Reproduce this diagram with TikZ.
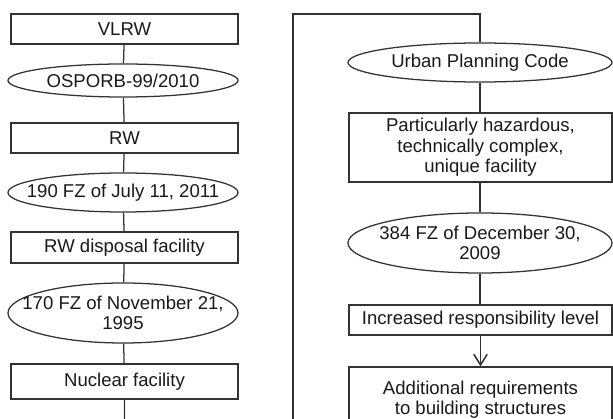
\documentclass[tikz,border=0pt]{standalone}
\usepackage{fontspec}
\setmainfont{Liberation Sans}
\usetikzlibrary{shapes.geometric, arrows.meta}

% one unit of the grid below
\newcommand{\unitpx}{0.7113pt}

\tikzset{
  every node/.style={font=\fontsize{13.2}{14.5}\selectfont, text=black!90, align=center},
  box/.style={draw, rectangle, inner sep=0pt},
  % fixed size: the text must not widen the ellipse
  law/.style={draw, ellipse, inner xsep=-80*\unitpx, inner ysep=0pt},
}

\begin{document}
\begin{tikzpicture}[x=0.025cm, y=-0.025cm, line width=0.9pt, color=black!80]
      \clip (0,0) rectangle (613,419);
      % left chain
      \node[box, minimum width=227*\unitpx, minimum height=30*\unitpx] (vlrw) at (124.5,29) {VLRW};
      \node[law, minimum width=230*\unitpx, minimum height=33*\unitpx] (osporb) at (123,80.5) {OSPORB-99/2010};
      \node[box, minimum width=227*\unitpx, minimum height=30*\unitpx] (rw) at (124.5,138) {RW};
      \node[law, minimum width=230*\unitpx, minimum height=39*\unitpx] (fzA) at (123,192.5) {190 FZ of July 11, 2011};
      \node[box, minimum width=227*\unitpx, minimum height=31*\unitpx] (rwdf) at (124.5,247.5) {RW disposal facility};
      \node[law, minimum width=230*\unitpx, minimum height=60*\unitpx] (fzB) at (123,313) {170 FZ of November 21,\\ 1995};
      \node[box, minimum width=227*\unitpx, minimum height=35*\unitpx] (nuc) at (124.5,381.5) {Nuclear facility};
      \coordinate (nucfoot) at (124.5,440);

      % right chain
      \node[law, minimum width=264*\unitpx, minimum height=39*\unitpx] (upc) at (480,62.5) {Urban Planning Code};
      \node[box, minimum width=263*\unitpx, minimum height=69*\unitpx] (phtc) at (480.5,147.5)
        {Particularly hazardous,\\ technically complex,\\ unique facility};
      \node[law, minimum width=264*\unitpx, minimum height=60*\unitpx] (fzC) at (480,243) {384 FZ of December 30,\\ 2009};
      \node[box, minimum width=263*\unitpx, minimum height=30*\unitpx] (irl) at (480.5,320) {Increased responsibility level};
      \node[box, minimum width=263*\unitpx, minimum height=66*\unitpx] (add) at (480.5,400)
        {Additional requirements\\ to building structures};
      \coordinate (bend) at (293,14);
      \coordinate (rfoot) at (293,440);

      \draw (vlrw) -- (osporb) -- (rw) -- (fzA) -- (rwdf) -- (fzB) -- (nuc) -- (nucfoot);
      \draw (upc.north) |- (bend) -- (rfoot);
      \draw (upc.south) -- (upc.south |- phtc.north);
      \draw (fzC.north |- phtc.south) -- (fzC.north);
      \draw (fzC.south) -- (fzC.south |- irl.north);
      \draw[-{Straight Barb[length=7.5pt, width=9.5pt, line width=1.1pt]}] (irl) -- (add);
\end{tikzpicture}
\end{document}
